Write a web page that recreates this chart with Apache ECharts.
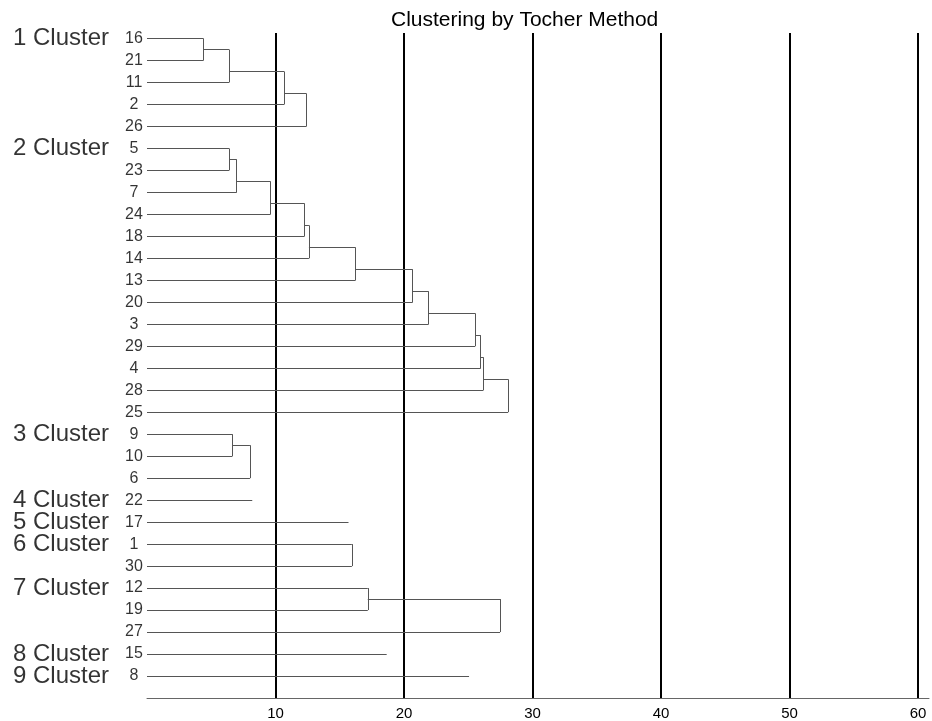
<!DOCTYPE html>
<html><head><meta charset="utf-8">
<script src="https://cdn.jsdelivr.net/npm/echarts@6/dist/echarts.min.js"></script>
<style>html,body{margin:0;padding:0;background:#fff}#c{width:932px;height:721px}</style>
</head><body><div id="c"></div>
<script>
// Leaves (top to bottom) and merge heights for each Tocher cluster
const clusterNames = ['1 Cluster','2 Cluster','3 Cluster','4 Cluster','5 Cluster','6 Cluster','7 Cluster','8 Cluster','9 Cluster'];
const cluster1Leaves = ['16','21','11','2','26'];
const cluster1Heights = [4.39, 6.38, 10.67, 12.40];
const cluster2Leaves = ['5','23','7','24','18','14','13','20','3','29','4','28','25'];
const cluster2Heights = [6.38, 6.98, 9.61, 12.25, 12.60, 16.22, 20.67, 21.91, 25.53, 25.97, 26.17, 28.09];
const cluster3Leaves = ['9','10','6'];
const cluster3Heights = [6.64, 8.01];
const cluster4Leaves = ['22'];
const cluster4Heights = [8.19];
const cluster5Leaves = ['17'];
const cluster5Heights = [15.68];
const cluster6Leaves = ['1','30'];
const cluster6Heights = [15.94];
const cluster7Leaves = ['12','19','27'];
const cluster7Heights = [17.18, 27.47];
const cluster8Leaves = ['15'];
const cluster8Heights = [18.65];
const cluster9Leaves = ['8'];
const cluster9Heights = [25.06];
const xTicks = [10, 20, 30, 40, 50, 60];

const clusters = [
  [cluster1Leaves, cluster1Heights],[cluster2Leaves, cluster2Heights],[cluster3Leaves, cluster3Heights],
  [cluster4Leaves, cluster4Heights],[cluster5Leaves, cluster5Heights],[cluster6Leaves, cluster6Heights],
  [cluster7Leaves, cluster7Heights],[cluster8Leaves, cluster8Heights],[cluster9Leaves, cluster9Heights]
];

const segs = [];
const leafPts = [];
const clusterPts = [];
function seg(a, b) { segs.push({coords: [a, b]}); }
let row = 0;
clusters.forEach(([leaves, h], ci) => {
  const ys = leaves.map((_, i) => row + i);
  leaves.forEach((l, i) => leafPts.push({name: l, value: [0, ys[i]]}));
  clusterPts.push({name: clusterNames[ci], value: [0, ys[0]]});
  if (leaves.length === 1) {
    seg([0, ys[0]], [h[0], ys[0]]);
  } else {
    seg([0, ys[0]], [h[0], ys[0]]);
    seg([0, ys[1]], [h[0], ys[1]]);
    seg([h[0], ys[0]], [h[0], ys[1]]);
    let nodeY = (ys[0] + ys[1]) / 2;
    for (let k = 2; k < leaves.length; k++) {
      const hp = h[k - 2], hc = h[k - 1];
      seg([hp, nodeY], [hc, nodeY]);
      seg([0, ys[k]], [hc, ys[k]]);
      seg([hc, nodeY], [hc, ys[k]]);
      nodeY = (nodeY + 2 * ys[k]) / 3;
    }
  }
  row += leaves.length;
});

const chart = echarts.init(document.getElementById('c'), null, {renderer: 'canvas'});
const FONT = '"Liberation Sans", Arial, sans-serif';
chart.setOption({
  animation: false,
  backgroundColor: '#fff',
  title: {
    text: 'Clustering by Tocher Method', left: 391, top: 10, padding: 0,
    textStyle: {fontFamily: FONT, fontSize: 21, fontWeight: 'normal', color: '#000'}
  },
  grid: {left: 147, right: 0, top: 33, bottom: 21, containLabel: false},
  xAxis: {
    type: 'value', min: 0, max: 60.85, interval: 10, position: 'bottom',
    axisLine: {show: true, onZero: false, lineStyle: {color: '#666', width: 1}},
    axisTick: {show: false},
    axisLabel: {
      fontFamily: FONT, fontSize: 15, color: '#000', margin: 8,
      formatter: v => (xTicks.indexOf(v) >= 0 ? String(v) : '')
    },
    splitLine: {show: true, showMinLine: false, showMaxLine: false, lineStyle: {color: '#000', width: 2}}
  },
  yAxis: {
    type: 'value', inverse: true, min: -0.25, max: 30,
    show: false, splitLine: {show: false}
  },
  series: [
    {
      type: 'lines', coordinateSystem: 'cartesian2d', silent: true, clip: false,
      lineStyle: {color: '#555', width: 1, opacity: 1},
      data: segs
    },
    {
      type: 'scatter', symbolSize: 0, clip: false, silent: true,
      itemStyle: {color: 'transparent'},
      label: {show: true, position: 'inside', offset: [-13, 0], align: 'center', verticalAlign: 'middle',
        formatter: p => p.name, fontFamily: FONT, fontSize: 16, color: '#000'},
      data: leafPts
    },
    {
      type: 'scatter', symbolSize: 0, clip: false, silent: true,
      itemStyle: {color: 'transparent'},
      label: {show: true, position: 'inside', offset: [-86, 0], align: 'center', verticalAlign: 'middle',
        formatter: p => p.name, fontFamily: FONT, fontSize: 24, color: '#000'},
      data: clusterPts
    }
  ]
});
</script></body></html>
